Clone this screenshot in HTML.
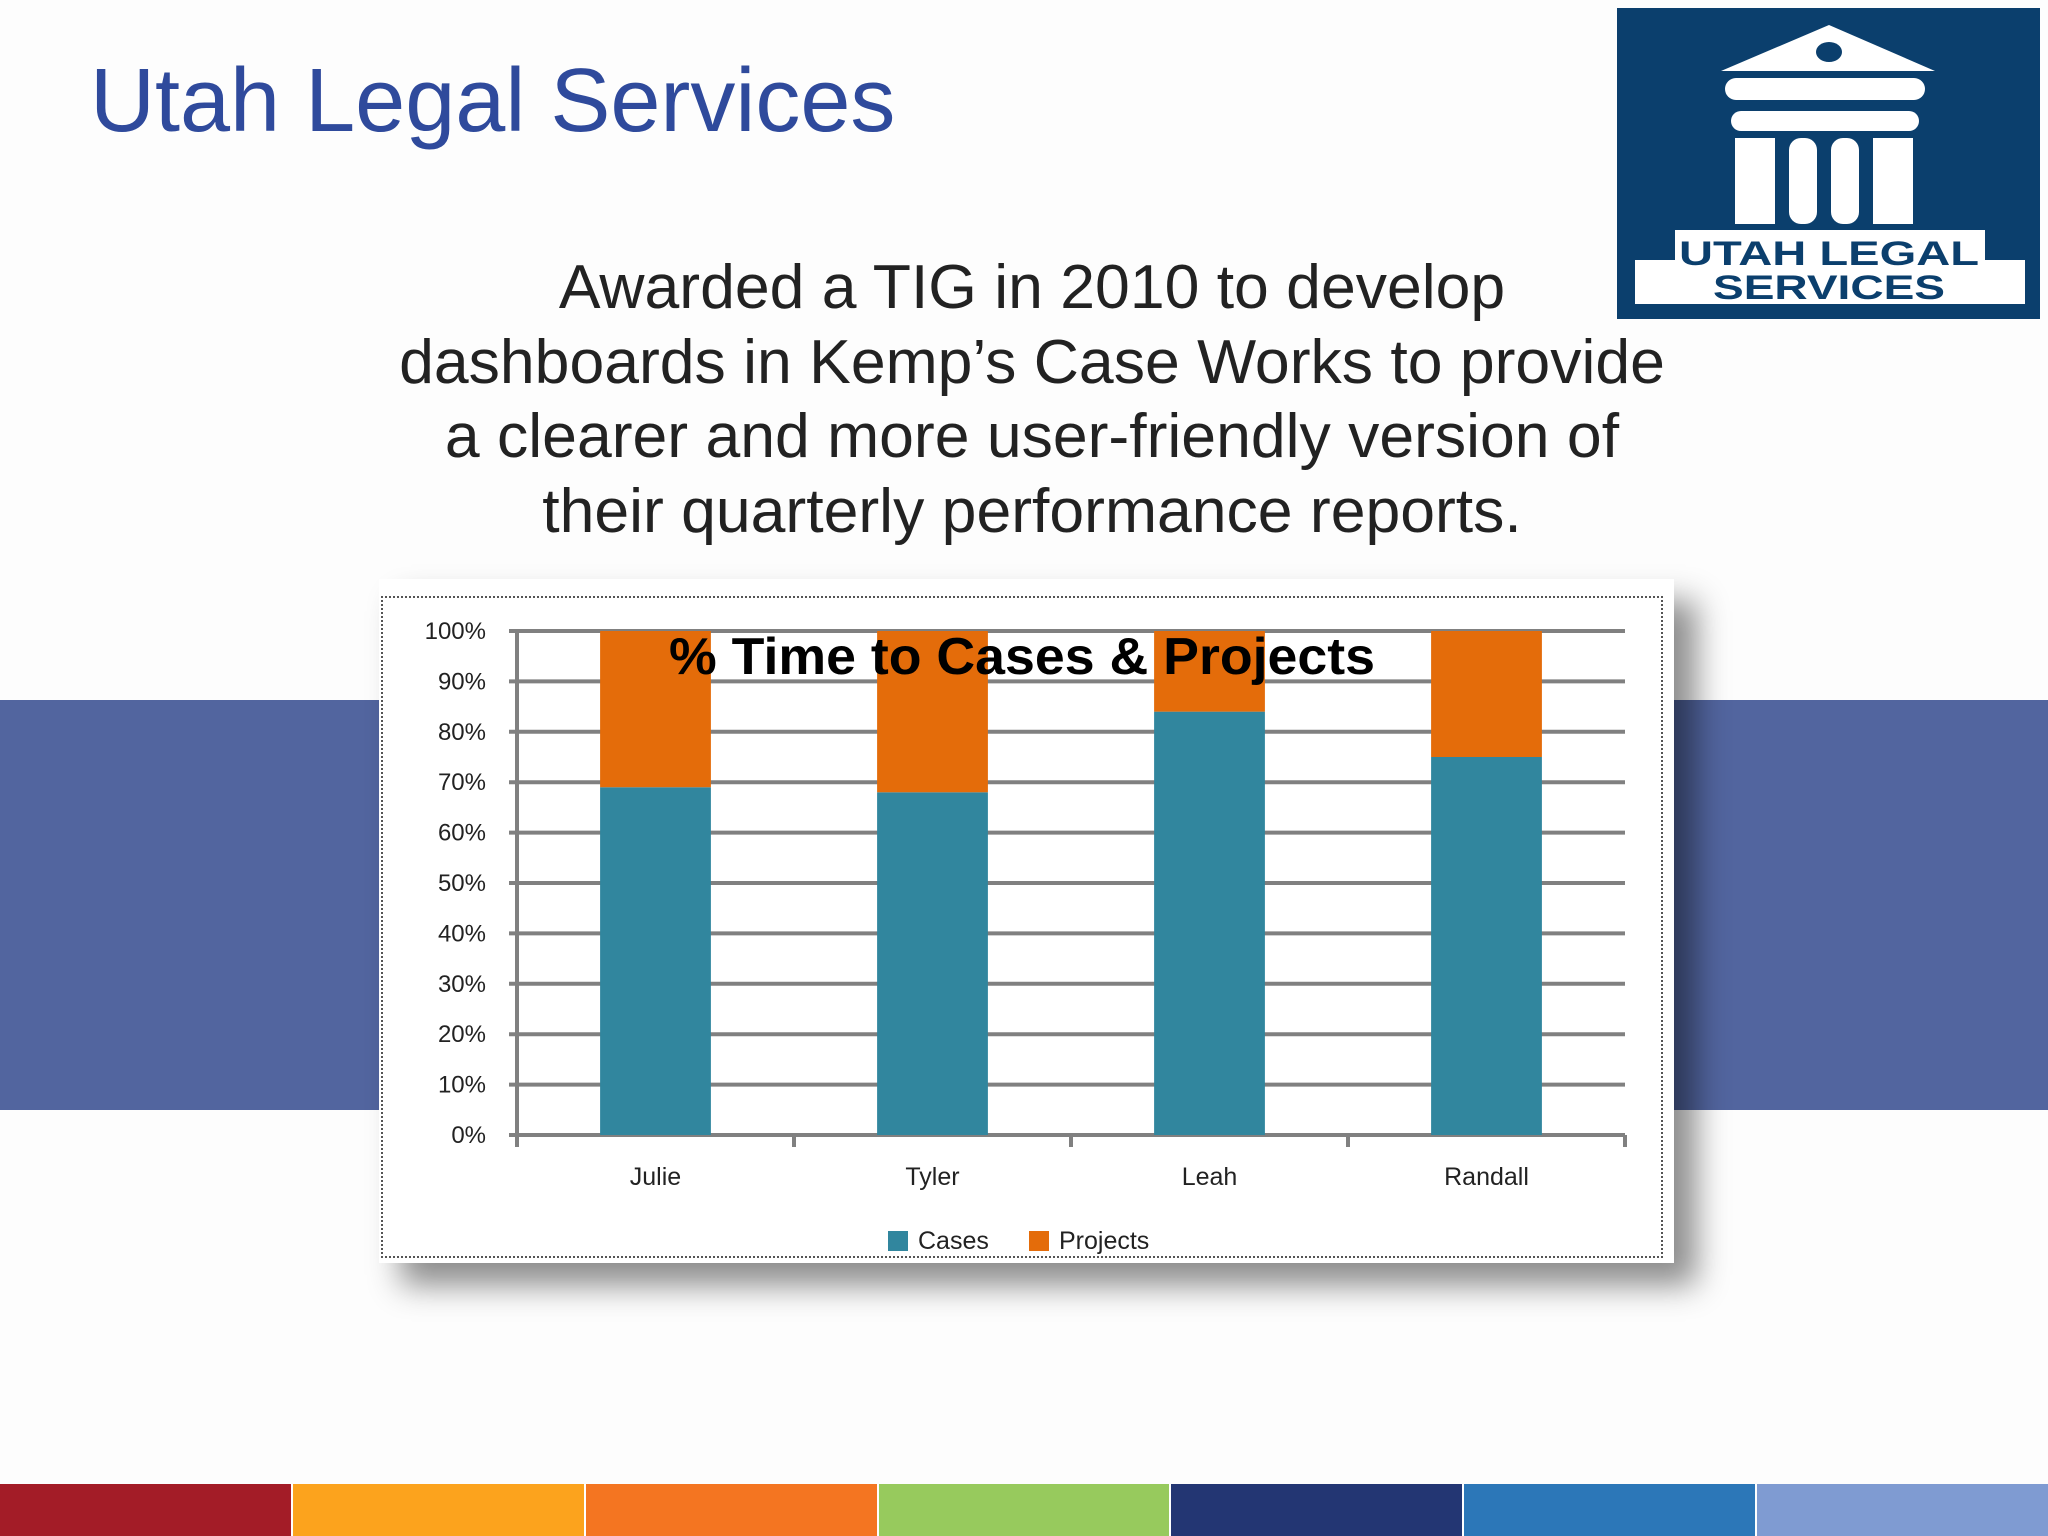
<!DOCTYPE html>
<html><head><meta charset="utf-8"><style>
body{margin:0;width:2048px;height:1536px;position:relative;overflow:hidden;background:#fdfdfd;font-family:"Liberation Sans",sans-serif}
.abs{position:absolute}
</style></head><body>
<div class="abs" style="left:90px;top:50px;font-size:90px;color:#2f4a9c;white-space:nowrap">Utah Legal Services</div>
<svg class="abs" style="left:1617px;top:8px" width="423" height="311" viewBox="0 0 423 311">
<rect width="423" height="311" fill="#0b3f6d"/>
<polygon points="104,63 212,17 318,63" fill="#fff"/>
<ellipse cx="212" cy="44" rx="13" ry="10" fill="#0b3f6d"/>
<rect x="108" y="70" width="200" height="22" rx="11" fill="#fff"/>
<rect x="114" y="103" width="188" height="20" rx="10" fill="#fff"/>
<rect x="118" y="130" width="40" height="86" fill="#fff"/>
<rect x="172" y="130" width="28" height="86" rx="12" fill="#fff"/>
<rect x="214" y="130" width="28" height="86" rx="12" fill="#fff"/>
<rect x="256" y="130" width="40" height="86" fill="#fff"/>
<rect x="58" y="222" width="310" height="36" fill="#fff"/>
<rect x="18" y="252" width="390" height="44" fill="#fff"/>
<text x="212" y="257" text-anchor="middle" font-family="Liberation Sans" font-weight="bold" font-size="34" fill="#0b3f6d" textLength="300" lengthAdjust="spacingAndGlyphs">UTAH LEGAL</text>
<text x="212" y="291" text-anchor="middle" font-family="Liberation Sans" font-weight="bold" font-size="34" fill="#0b3f6d" textLength="232" lengthAdjust="spacingAndGlyphs">SERVICES</text>
</svg>
<div class="abs" style="left:332px;width:1400px;top:250px;text-align:center;font-size:62.5px;line-height:74.5px;color:#222">Awarded a TIG in 2010 to develop<br>dashboards in Kemp’s Case Works to provide<br>a clearer and more user-friendly version of<br>their quarterly performance reports.</div>
<div class="abs" style="left:0;top:700px;width:380px;height:410px;background:#52659f"></div>
<div class="abs" style="left:1674px;top:700px;width:374px;height:410px;background:#52659f"></div>
<div class="abs" style="left:379px;top:579px;width:1295px;height:684px;background:#fff;box-shadow:22px 22px 30px rgba(0,0,0,0.45)"></div>
<div class="abs" style="left:381px;top:596px;width:1278px;height:658px;border:2px dotted #555"></div>
<svg class="abs" id="chart" style="left:0;top:0" width="2048" height="1536"></svg>
<div class="abs" style="left:0;top:1484px;width:2048px;height:52px;display:flex">
<div style="flex:1;background:#a31c27;border-right:2px solid #fff"></div><div style="flex:1;background:#fca31d;border-right:2px solid #fff"></div><div style="flex:1;background:#f47521;border-right:2px solid #fff"></div><div style="flex:1;background:#97ca5d;border-right:2px solid #fff"></div><div style="flex:1;background:#233673;border-right:2px solid #fff"></div><div style="flex:1;background:#2c77b8;border-right:2px solid #fff"></div><div style="flex:1;background:#7f9bd2"></div>
</div>
<script>
const categories=["Julie","Tyler","Leah","Randall"];
const cases=[69,68,84,75];
const projects=[31,32,16,25];
const yTicks=["0%","10%","20%","30%","40%","50%","60%","70%","80%","90%","100%"];
const svg=document.getElementById('chart');
const NS='http://www.w3.org/2000/svg';
const x0=517,x1=1625,yB=1135,yT=631;
const y=v=>yB-(v/100)*(yB-yT);
const band=(x1-x0)/categories.length;
const xc=i=>x0+band*(i+0.5);
function mk(t,a){const e=document.createElementNS(NS,t);for(const k in a)e.setAttribute(k,a[k]);svg.appendChild(e);return e;}
yTicks.forEach((t,i)=>{const v=i*10;
const l=mk('line',{x1:x0-8,x2:x1,y1:y(v),y2:y(v),stroke:'#808080','stroke-width':4});


const tx=mk('text',{x:486,y:y(v)+8,'text-anchor':'end','font-size':24,fill:'#222','font-family':'Liberation Sans'});tx.textContent=t;


});
const ax=mk('line',{x1:x0,x2:x0,y1:yT,y2:yB+10,stroke:'#808080','stroke-width':4});


for(let i=0;i<=categories.length;i++){const tk=mk('line',{x1:x0+band*i,x2:x0+band*i,y1:yB,y2:yB+12,stroke:'#808080','stroke-width':4});

}
const bw=band*0.4;
categories.forEach((c,i)=>{
const r1=mk('rect',{x:xc(i)-bw/2,y:y(cases[i]),width:bw,height:y(0)-y(cases[i]),fill:'#31869e'});


const r2=mk('rect',{x:xc(i)-bw/2,y:y(cases[i]+projects[i]),width:bw,height:y(cases[i])-y(cases[i]+projects[i]),fill:'#e46c0a'});


const t=mk('text',{x:xc(i),y:1185,'text-anchor':'middle','font-size':25,fill:'#222','font-family':'Liberation Sans'});t.textContent=c;


});
const title=mk('text',{x:1022,y:674,'text-anchor':'middle','font-size':52,'font-weight':'bold',fill:'#000','font-family':'Liberation Sans',textLength:706,lengthAdjust:'spacingAndGlyphs'});title.textContent='% Time to Cases & Projects';


const lg=[["Cases","#31869e",888],["Projects","#e46c0a",1029]];
lg.forEach(d=>{const r=mk('rect',{x:d[2],y:1231,width:20,height:20,fill:d[1]});


const t=mk('text',{x:d[2]+30,y:1249,'font-size':25,fill:'#222','font-family':'Liberation Sans'});t.textContent=d[0];

});
</script>
</body></html>
